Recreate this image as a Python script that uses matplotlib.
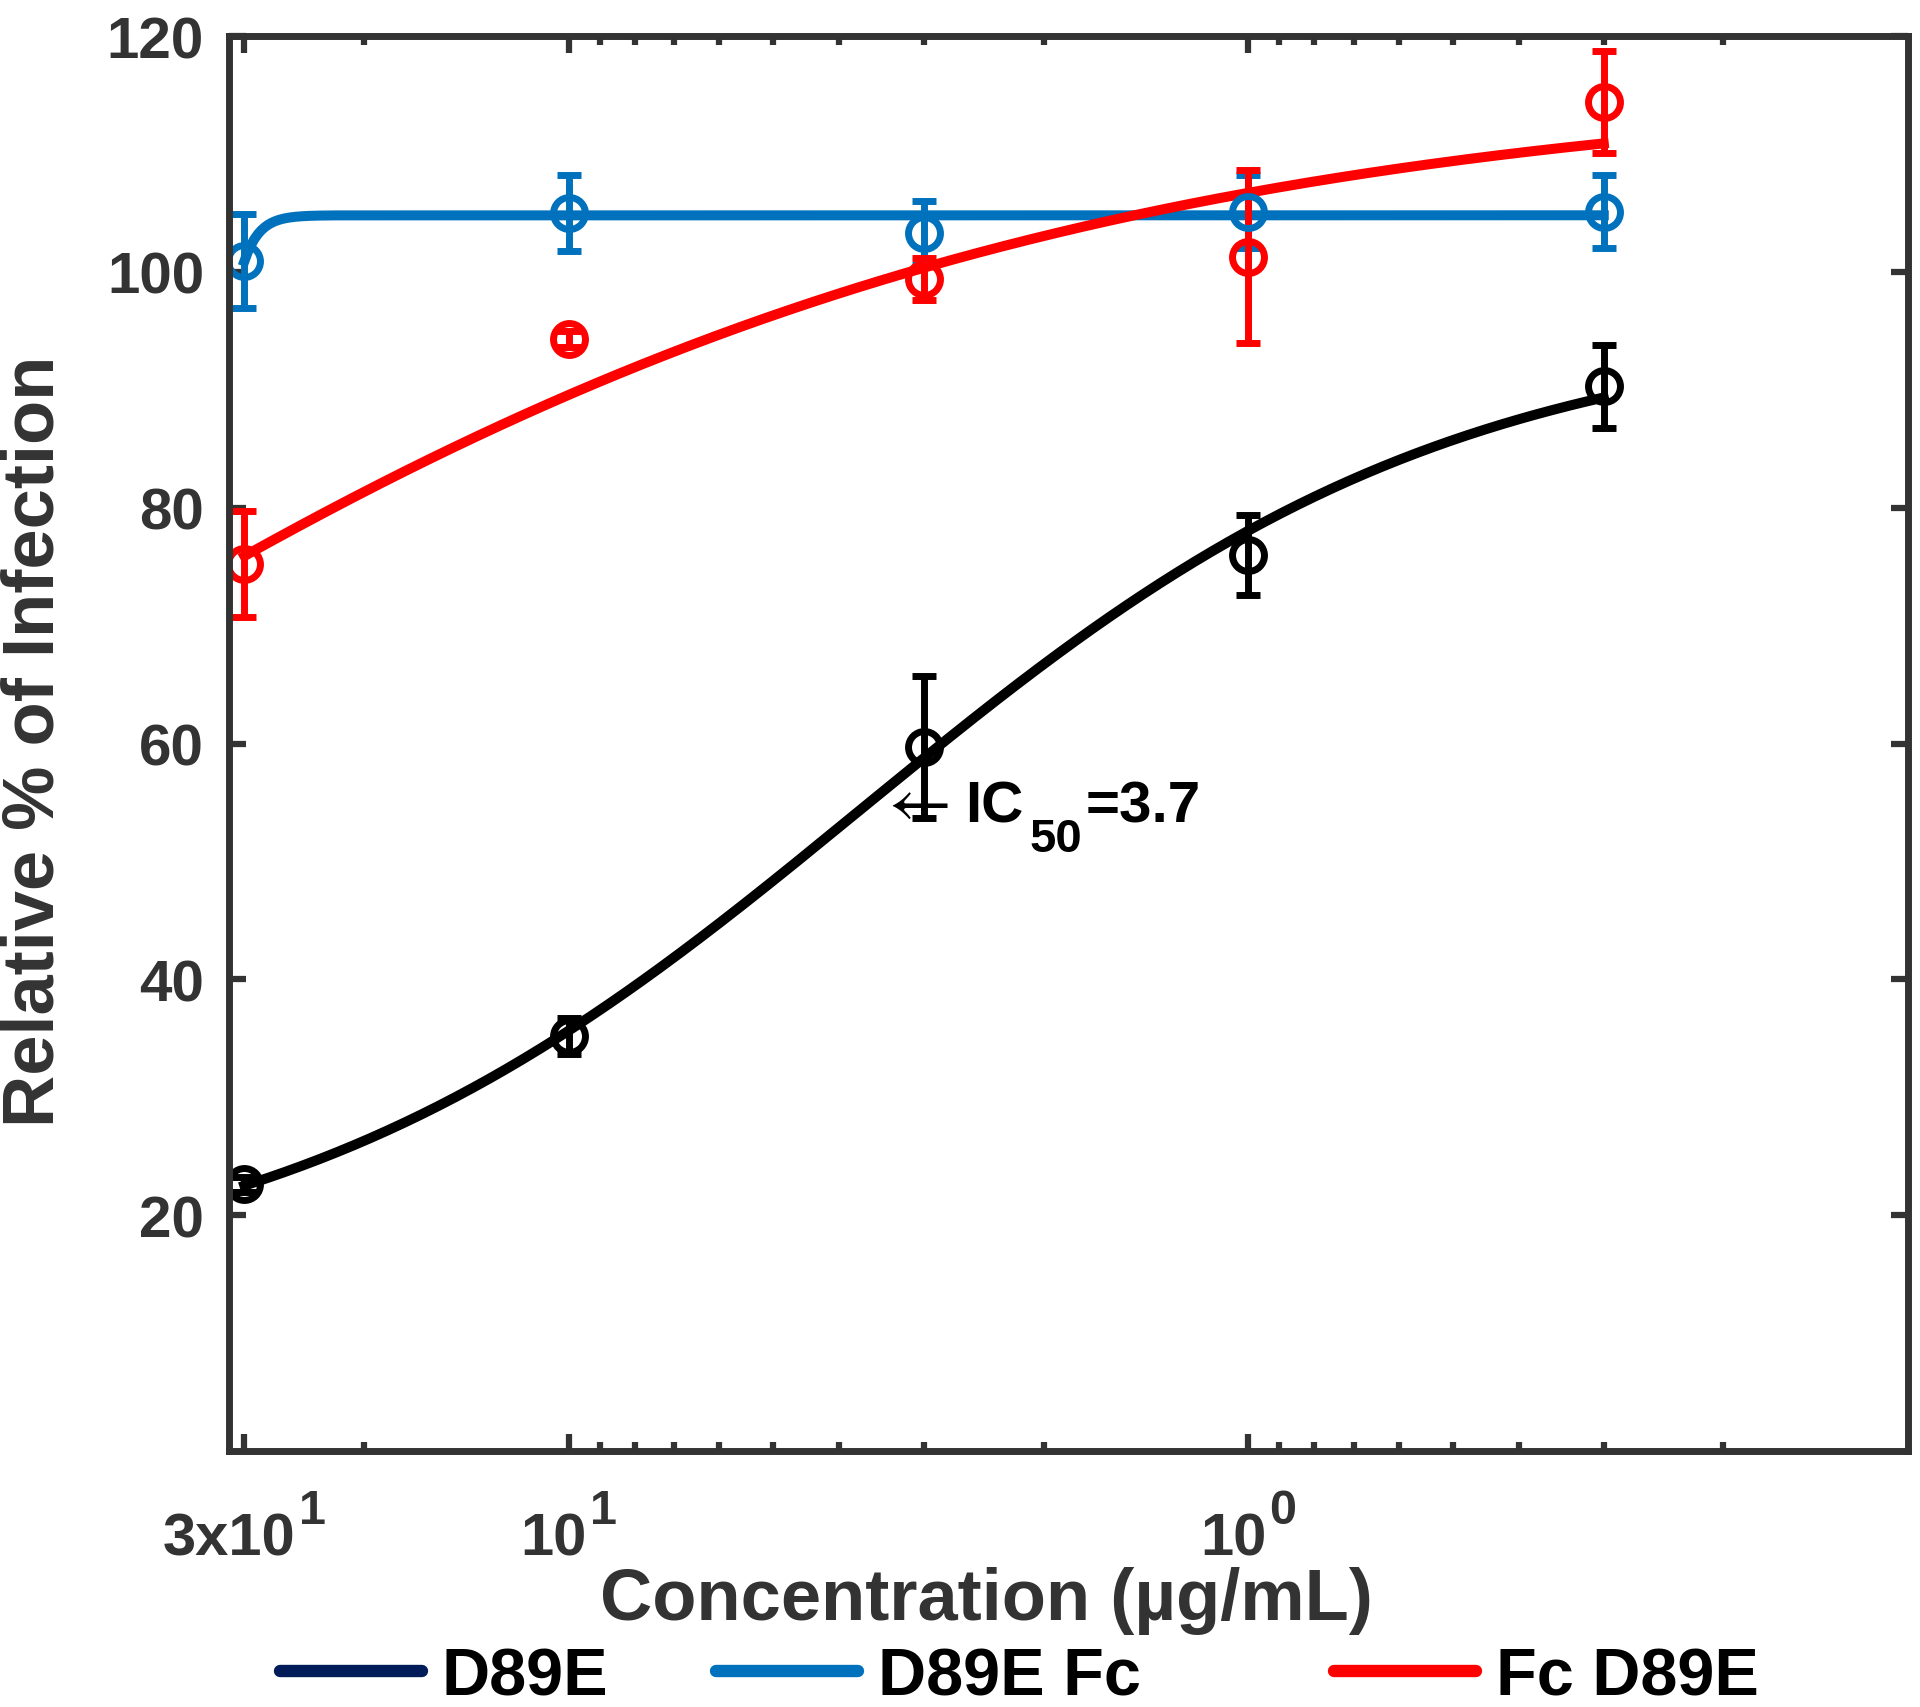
import numpy as np
import matplotlib.pyplot as plt
from matplotlib.lines import Line2D
from matplotlib.transforms import offset_copy

plt.rcParams['font.family'] = ['Liberation Sans', 'DejaVu Sans']
plt.rcParams['font.weight'] = 'bold'

# concentrations (ug/mL) and measured relative infection (%)
conc = [30, 10, 3, 1, 0.3]
d89e_mean = [22.6, 35.2, 59.7, 76.0, 90.3]
d89e_err = [0.6, 1.5, 6.0, 3.4, 3.5]
d89e_fc_mean = [100.9, 105.0, 103.3, 105.1, 105.1]
d89e_fc_err = [4.0, 3.2, 2.7, 3.1, 3.1]
fc_d89e_mean = [75.2, 94.3, 99.4, 101.3, 114.4]
fc_d89e_err = [4.5, 0.7, 1.8, 7.3, 4.3]

# 4-parameter logistic fits: bottom, top, ic50, hill
d89e_fit = [13.5, 95.5, 3.7, 1.0]
d89e_fc_fit = [0.0, 104.8, 35.3, 20.0]
fc_d89e_fit = [0.0, 116.0, 100.0, 0.53]

labels = ['D89E', 'D89E Fc', 'Fc D89E']
colors = ['#000000', '#0072BD', '#FF0000']
legend_colors = ['#021C5A', '#0072BD', '#FF0000']

xticks = [30, 10, 1]
xtick_base = ['3x10', '10', '10']
xtick_exp = ['1', '1', '0']
xminor = [20, 9, 8, 7, 6, 5, 4, 3, 2, 0.9, 0.8, 0.7, 0.6, 0.5, 0.4, 0.3, 0.2]
yticks = [20, 40, 60, 80, 100, 120]


def logistic(x, p):
    bottom, top, ic50, hill = p
    return bottom + (top - bottom) / (1 + (x / ic50) ** hill)


gray = '#333333'
fig = plt.figure(figsize=(19.2, 17.08), dpi=100)
ax = fig.add_axes([0.1193, 0.1499, 0.8745, 0.8284])
renderer = fig.canvas.get_renderer()

xfit = np.logspace(np.log10(min(conc)), np.log10(max(conc)), 400)
series = [
    (d89e_fc_mean, d89e_fc_err, d89e_fc_fit, colors[1]),
    (fc_d89e_mean, fc_d89e_err, fc_d89e_fit, colors[2]),
    (d89e_mean, d89e_err, d89e_fit, colors[0]),
]
for mean, err, fit, c in series:
    ax.errorbar(conc, mean, yerr=err, fmt='o', color=c, mfc='none', ms=23, mew=5,
                elinewidth=5, capsize=8.3, capthick=5)
    ax.plot(xfit, logistic(xfit, fit), color=c, lw=7.2)

ax.set_xscale('log')
ax.set_xlim(31.6, 0.107)
ax.set_ylim(0, 120)
ax.set_xticks(xticks)
ax.set_xticklabels([])
ax.set_xticks(xminor, minor=True)
ax.set_xticklabels([], minor=True)
ax.set_yticks(yticks)

ax.tick_params(which='both', direction='in', top=True, right=True, color=gray, width=4.5)
ax.tick_params(which='major', length=12)
ax.tick_params(which='minor', length=6.5)
ax.tick_params(axis='y', labelsize=42, labelcolor=gray, pad=18)
for s in ax.spines.values():
    s.set_color(gray)
    s.set_linewidth(5)


def put(x, y, s, dx, dy, size, trans, **kw):
    t = ax.text(x, y, s, transform=offset_copy(trans, fig=fig, x=dx, y=dy, units='dots'),
                fontsize=size, ha='left', va='baseline', clip_on=False, **kw)
    return t, t.get_window_extent(renderer).width


# x tick labels as base + larger superscript (MATLAB style)
xtrans = ax.get_xaxis_transform()
for val, base, ex in zip(xticks, xtick_base, xtick_exp):
    t1, w1 = put(val, -0.073, base, 0, 0, 43, xtrans, color=gray)
    t2, w2 = put(val, -0.073, ex, 0, 0, 35, xtrans, color=gray)
    total = w1 + 3 + w2
    t1.set_transform(offset_copy(xtrans, fig=fig, x=-total / 2, y=0, units='dots'))
    t2.set_transform(offset_copy(xtrans, fig=fig, x=-total / 2 + w1 + 3, y=31, units='dots'))

ax.set_xlabel('Concentration (µg/mL)', fontsize=52, color=gray, fontweight='bold', va='center')
ax.set_ylabel('Relative % of Infection', fontsize=52, color=gray, fontweight='bold', va='center')
ax.xaxis.set_label_coords(0.451, -0.105)
ax.yaxis.set_label_coords(-0.116, 0.502)

# IC50 annotation: thin arrow followed by bold text with subscript
ax.text(3.4, 54.7, '\u2190', fontsize=50, ha='left', va='center', color='black',
        family='STIXGeneral', fontweight='normal')
t, w = put(3.4, 54.7, 'IC', 78, -15, 42, ax.transData, color='black')
t, w2 = put(3.4, 54.7, '50', 78 + w + 6, -45, 34, ax.transData, color='black')
put(3.4, 54.7, '=3.7', 78 + w + 6 + w2 + 3, -15, 42, ax.transData, color='black')

# legend entries placed one by one below the axes
legend_x = [0.1458, 0.3729, 0.695]
for lab, c, lx in zip(labels, legend_colors, legend_x):
    h = Line2D([], [], color=c, lw=8.9, solid_capstyle='round')
    lg = fig.legend([h], [lab], loc='center left', bbox_to_anchor=(lx, 0.0175),
                    frameon=False, fontsize=48, handlelength=2.13, handletextpad=0.3,
                    borderpad=0, borderaxespad=0)
    for tx in lg.get_texts():
        tx.set_fontweight('bold')

fig.savefig('out.png', dpi=100)
